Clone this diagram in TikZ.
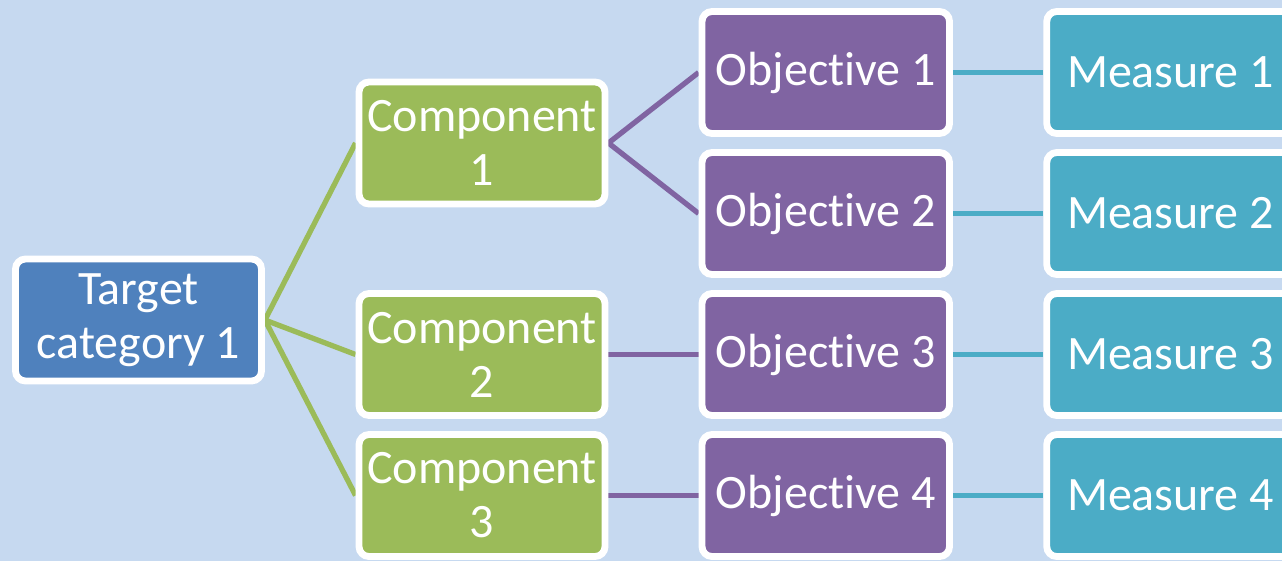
\documentclass[tikz,border=0pt]{standalone}
\usepackage{fontspec}
\setmainfont{Carlito}[Ligatures=NoCommon]
\usetikzlibrary{shadows,backgrounds}

\definecolor{bgblue}{HTML}{C6D9F0}
\definecolor{catblue}{HTML}{4F81BD}
\definecolor{compgreen}{HTML}{9BBB59}
\definecolor{objpurple}{HTML}{8064A2}
\definecolor{meascyan}{HTML}{4BACC6}

\begin{document}
\begin{tikzpicture}
        [
            box/.style={rectangle, rounded corners=0.2cm, draw=white, line width=3.9pt,
                        minimum width=4.92cm, minimum height=2.44cm, inner sep=0pt,
                        text=white, align=center,
                        font=\fontsize{27.3}{30.8}\selectfont,
                        drop shadow={shadow xshift=0.6pt, shadow yshift=-1.6pt, opacity=0.22, fill=black}},
            category/.style={box, fill=catblue},
            component/.style={box, fill=compgreen},
            objective/.style={box, fill=objpurple, minimum width=4.95cm},
            measure/.style={box, fill=meascyan, minimum width=4.95cm},
            link/.style={line width=3pt},
        ]
            \useasboundingbox (0,0) rectangle (25.64,-11.2);

            \node[category] (TC1) at (2.77, -6.40) {Target\\category 1};

            \node[component] (C1) at (9.64, -2.86) {Component\\1};
            \node[component] (C2) at (9.64, -7.09) {Component\\2};
            \node[component] (C3) at (9.64, -9.91) {Component\\3};

            \node[objective] (O1) at (16.515, -1.45) {Objective 1};
            \node[objective] (O2) at (16.515, -4.27) {Objective 2};
            \node[objective] (O3) at (16.515, -7.09) {Objective 3};
            \node[objective] (O4) at (16.515, -9.91) {Objective 4};

            \node[measure] (M1) at (23.41, -1.45) {Measure 1};
            \node[measure] (M2) at (23.41, -4.27) {Measure 2};
            \node[measure] (M3) at (23.41, -7.09) {Measure 3};
            \node[measure] (M4) at (23.41, -9.91) {Measure 4};

            \begin{scope}[on background layer]
            \fill[bgblue] (-0.1,0.1) rectangle (25.74,-11.3);

            \draw[link, compgreen] (TC1.east) -- (C1.west);
            \draw[link, compgreen] (TC1.east) -- (C2.west);
            \draw[link, compgreen] (TC1.east) -- (C3.west);

            \draw[link, objpurple] (C1.east) -- (O1.west);
            \draw[link, objpurple] (C1.east) -- (O2.west);
            \draw[link, objpurple] (C2.east) -- (O3.west);
            \draw[link, objpurple] (C3.east) -- (O4.west);

            \draw[link, meascyan] (O1.east) -- (M1.west);
            \draw[link, meascyan] (O2.east) -- (M2.west);
            \draw[link, meascyan] (O3.east) -- (M3.west);
            \draw[link, meascyan] (O4.east) -- (M4.west);
            \end{scope}
        \end{tikzpicture}
\end{document}
